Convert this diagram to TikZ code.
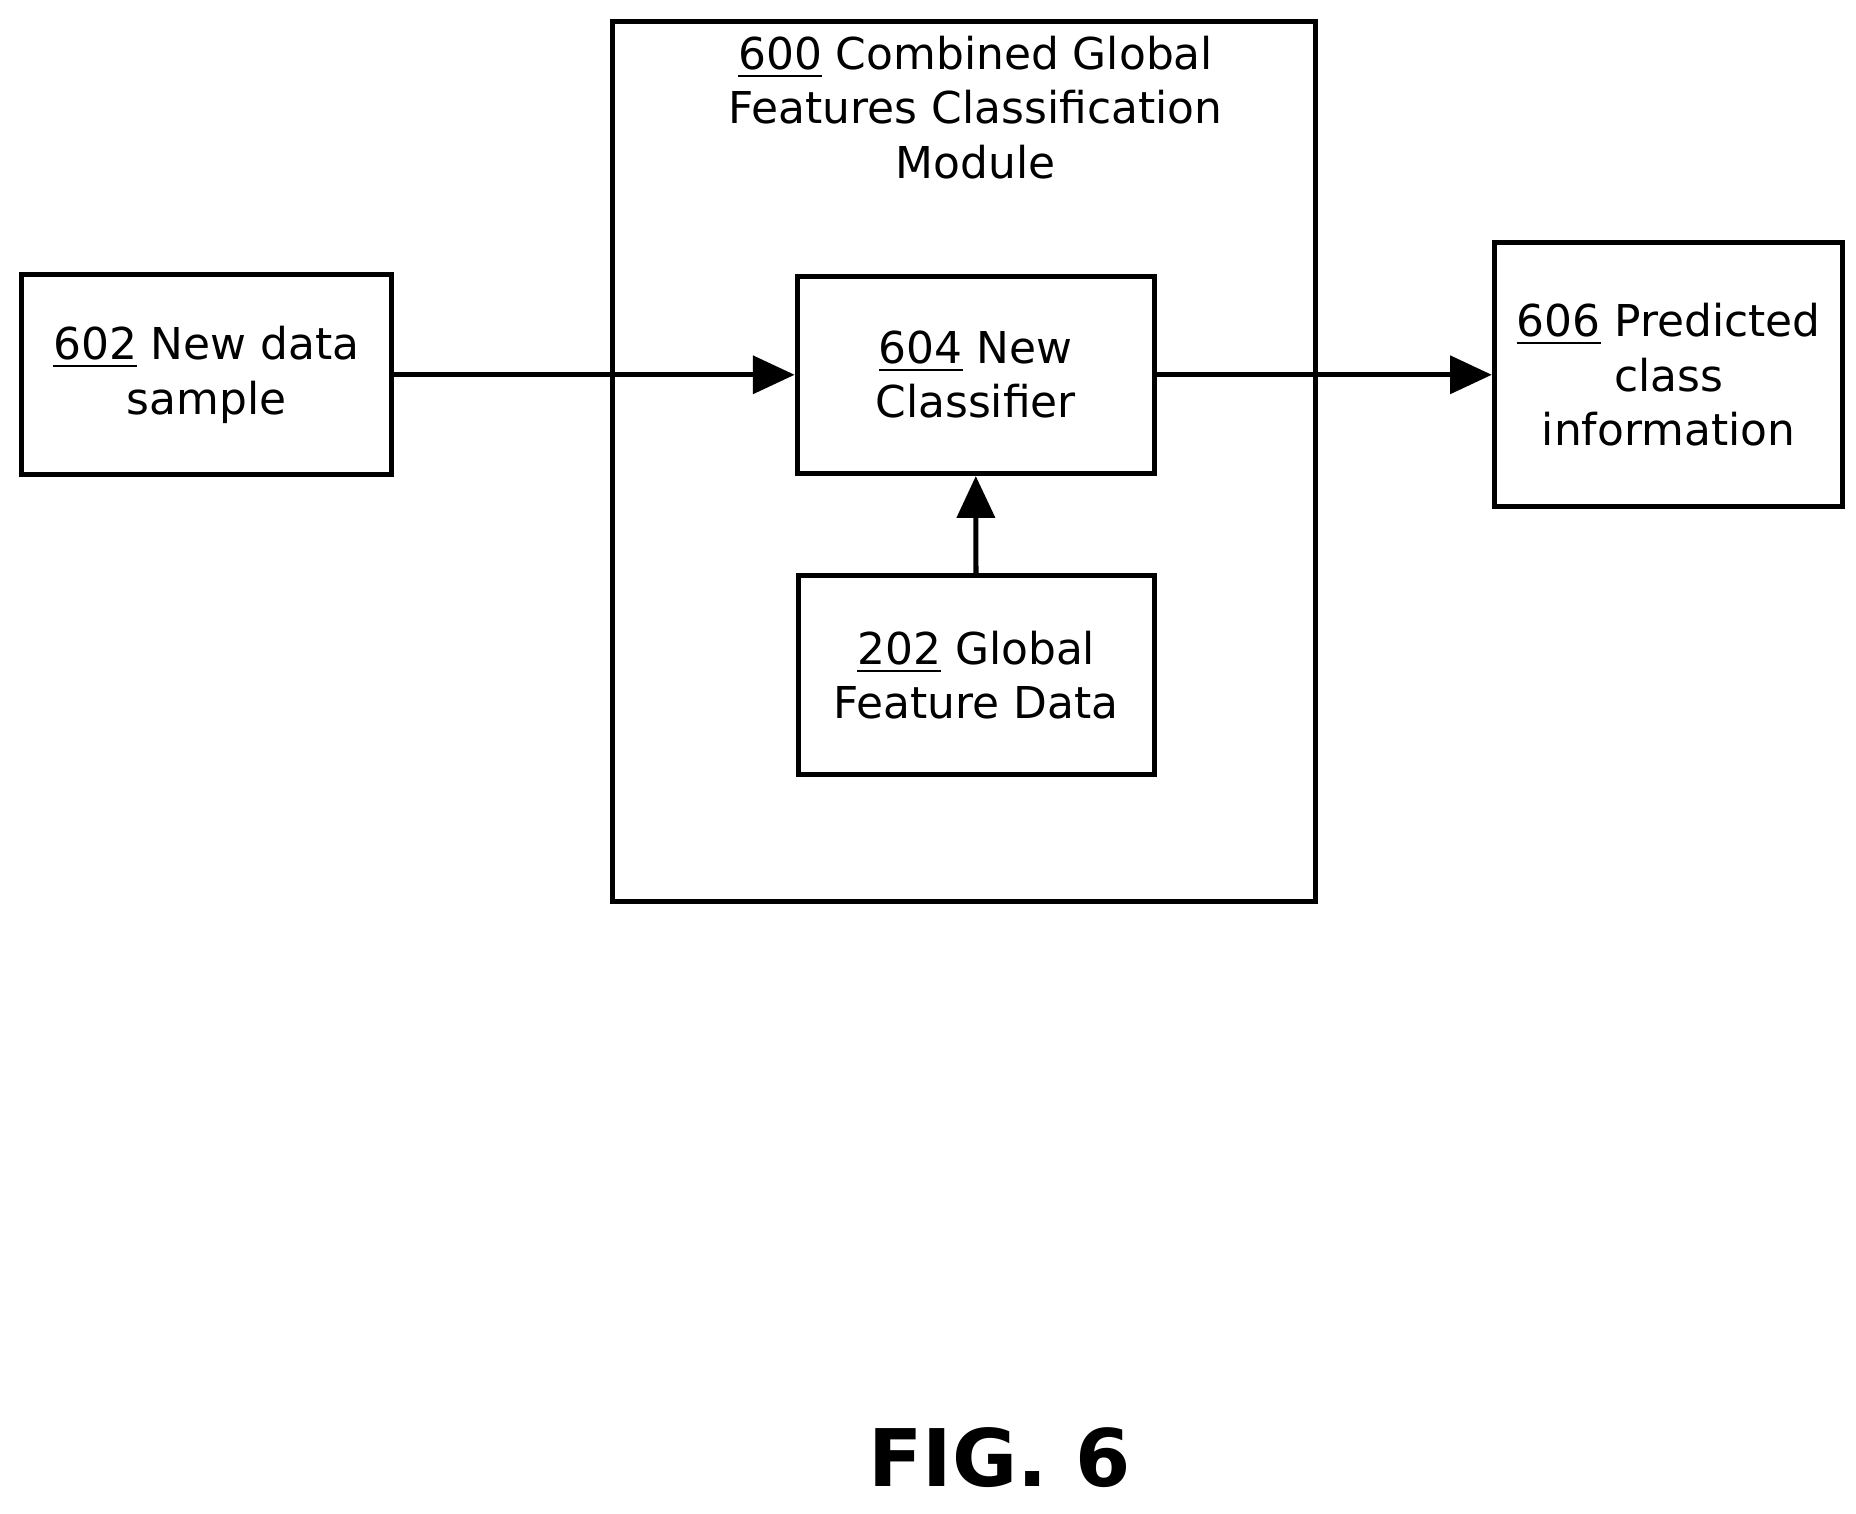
\documentclass[tikz,border=0pt]{standalone}
\usepackage{fontspec}
\setmainfont{DejaVu Sans}
\usepackage{tikz}
\usetikzlibrary{arrows.meta}
\tikzset{
  box/.style={draw, line width=1.2pt, align=center, font=\fontsize{10.5}{13}\selectfont},
  flow/.style={line width=1.2pt, -{Triangle[length=10pt,width=9pt]}}
}
\begin{document}
\begin{tikzpicture}
\useasboundingbox (0,0) rectangle (15.6,-12.72);
\node[box, minimum width=5.91cm, minimum height=7.4cm](M600) at (8.105,-3.88) {};
\node[anchor=north, align=center, font=\fontsize{10.5}{13}\selectfont](T600) at (8.2,-0.18) {\underline{600} Combined Global\\Features Classification\\Module};

\node[box, minimum width=3.11cm, minimum height=1.68cm](N602) at (1.735,-3.15) {\underline{602} New data\\sample};
\node[box, minimum width=3.0cm, minimum height=1.66cm](N604) at (8.2,-3.15) {\underline{604} New\\Classifier};
\node[box, minimum width=2.99cm, minimum height=1.67cm](N202) at (8.205,-5.675) {\underline{202} Global\\Feature Data};
\node[box, minimum width=2.93cm, minimum height=2.22cm](N606) at (14.025,-3.15) {\underline{606} Predicted\\class\\information};

\draw[flow](N602) -- (N604);
\draw[flow](N604) -- (N606);
\draw[flow](N202) -- (N604);

\node[font=\bfseries\fontsize{19}{22}\selectfont, inner sep=1pt](FIG) at (8.4,-12.25) {FIG. 6};
\end{tikzpicture}
\end{document}
